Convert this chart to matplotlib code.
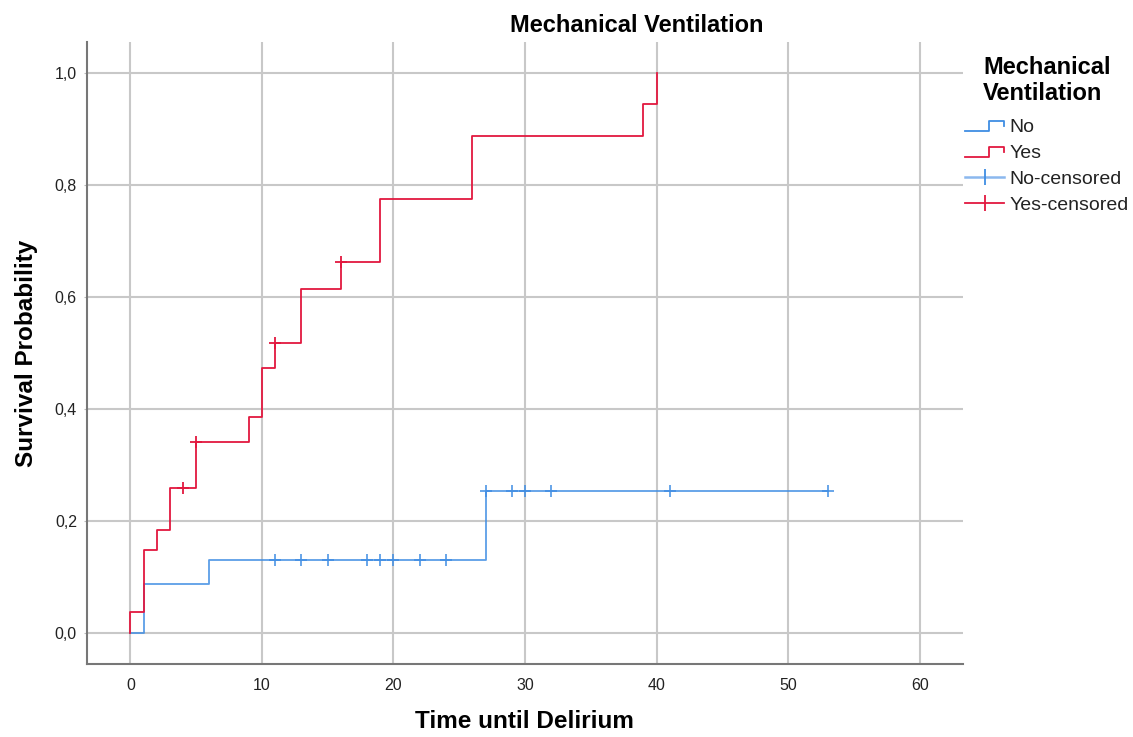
import matplotlib
matplotlib.use("Agg")
import matplotlib.pyplot as plt
from matplotlib.lines import Line2D
from matplotlib.legend_handler import HandlerLine2D
from matplotlib.ticker import FuncFormatter

plt.rcParams['font.family'] = ['Liberation Sans', 'DejaVu Sans']

# Kaplan-Meier style step data
yes_times = [0, 0, 1, 2, 3, 5, 9, 10, 11, 13, 16, 19, 26, 39, 40]
yes_surv = [0, 0.037, 0.148, 0.185, 0.259, 0.342, 0.385, 0.473, 0.517,
            0.614, 0.662, 0.775, 0.887, 0.944, 1.0]
yes_cens_t = [4, 5, 11, 16]
yes_cens_s = [0.259, 0.342, 0.517, 0.662]

no_times = [0, 1, 6, 27, 53]
no_surv = [0, 0.087, 0.130, 0.254, 0.254]
no_cens_t = [11, 13, 15, 18, 19, 20, 22, 24, 27, 29, 30, 32, 41, 53]
no_cens_s = [0.130] * 8 + [0.254] * 6

blue = '#3F8DE3'
blue_light = '#8BB8EE'
red = '#E2183F'


class StepHandler(HandlerLine2D):
    # legend handle shaped like a little step
    def create_artists(self, legend, orig_handle, xdescent, ydescent,
                       width, height, fontsize, trans):
        x0, x1 = -xdescent, -xdescent + width
        xm = x0 + width * 0.62
        ylo = -ydescent + height * 0.1
        yhi = -ydescent + height * 0.8
        ln = Line2D([x0, xm, xm, x1, x1], [ylo, ylo, yhi, yhi, yhi - height * 0.35],
                    color=orig_handle.get_color(), lw=orig_handle.get_linewidth())
        ln.set_transform(trans)
        return [ln]


fig = plt.figure(figsize=(11.33, 7.37), dpi=100)
ax = fig.add_axes([0.0765, 0.099, 0.7735, 0.844])

ax.step(no_times, no_surv, where='post', color=blue, lw=1.3, alpha=0.85)
ax.step(yes_times, yes_surv, where='post', color=red, lw=1.3)
ax.plot(no_cens_t, no_cens_s, ls='none', marker='+', ms=9, mew=1.3,
        color=blue, alpha=0.85)
ax.plot(yes_cens_t, yes_cens_s, ls='none', marker='+', ms=9, mew=1.3,
        color=red)

ax.set_xlim(-3.32, 63.3)
ax.set_ylim(-0.055, 1.055)
ax.set_xticks([0, 10, 20, 30, 40, 50, 60])
ax.set_yticks([0, 0.2, 0.4, 0.6, 0.8, 1.0])
ax.yaxis.set_major_formatter(FuncFormatter(lambda v, p: f"{v:.1f}".replace('.', ',')))
ax.grid(True, color='#C8C8C8', lw=1.5)
ax.set_axisbelow(True)
for s in ['top', 'right']:
    ax.spines[s].set_visible(False)
for s in ['left', 'bottom']:
    ax.spines[s].set_color('#777777')
    ax.spines[s].set_linewidth(1.5)
ax.tick_params(axis='both', labelsize=11.5, colors='#222222', length=2,
               color='#BBBBBB')
ax.tick_params(axis='x', length=0, pad=10)
ax.tick_params(axis='y', pad=5)

fig.text(0.562, 0.966, 'Mechanical Ventilation', fontsize=17, fontweight='bold',
         ha='center', va='center')
ax.set_xlabel('Time until Delirium', fontsize=17.5, fontweight='bold', labelpad=12)
ax.set_ylabel('Survival Probability', fontsize=17.5, fontweight='bold', labelpad=12)

h_no = Line2D([], [], color=blue, lw=1.3)
h_yes = Line2D([], [], color=red, lw=1.3)
h_no_c = Line2D([], [], color=blue_light, lw=1.8, marker='|', ms=12, mew=1.3,
                markeredgecolor=blue)
h_yes_c = Line2D([], [], color=red, lw=1.3, marker='|', ms=12, mew=1.3)
leg = fig.legend([h_no, h_yes, h_no_c, h_yes_c],
                 ['No', 'Yes', 'No-censored', 'Yes-censored'],
                 title='Mechanical\nVentilation', loc='upper left',
                 bbox_to_anchor=(0.852, 0.924), frameon=False, fontsize=14,
                 title_fontproperties={'weight': 'bold', 'size': 17},
                 borderpad=0, borderaxespad=0,
                 handlelength=2.0, handletextpad=0.25, labelspacing=0.43,
                 handler_map={h_no: StepHandler(), h_yes: StepHandler()})
leg._legend_box.align = 'center'
leg.get_title().set_linespacing(1.15)
leg._legend_box.sep = 10
for t in leg.get_texts():
    t.set_color('#222222')

fig.savefig('out.png', dpi=100)
